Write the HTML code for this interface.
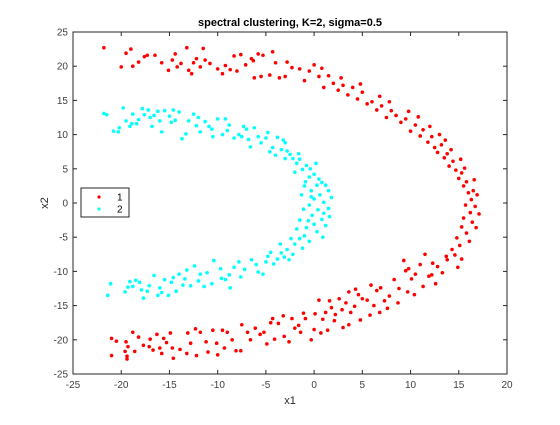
<!DOCTYPE html>
<html><head><meta charset="utf-8"><style>
body{margin:0;background:#fff;width:560px;height:420px;overflow:hidden;font-family:"Liberation Sans",sans-serif}
</style></head><body>
<svg id="chart" width="560" height="420" xmlns="http://www.w3.org/2000/svg" font-family="Liberation Sans, sans-serif">
<rect width="560" height="420" fill="#fff"/>
<g id="marks"></g>
<g id="axes"></g>
</svg>
<script>
const xTicks=[-25,-20,-15,-10,-5,0,5,10,15,20];
const yTicks=[-25,-20,-15,-10,-5,0,5,10,15,20,25];
const seriesNames=["1","2"];
const cluster1=[[-21.8,22.7],[-20,19.9],[-19.5,21.9],[-19,22.5],[-18.8,20],[-18.2,20.6],[-17.6,21.4],[-17.3,21.6],[-16.5,21.6],[-15.8,20.5],[-15.1,19.4],[-14.7,20.9],[-14.4,21.8],[-14.2,19.9],[-13.8,20.4],[-13.2,22.7],[-13.0,19.4],[-12.7,18.9],[-12.5,20.5],[-12.2,21.1],[-11.8,19.9],[-11.5,22.6],[-11.3,20.9],[-10.8,20.4],[-10,19.6],[-9.5,18.9],[-8.7,19.5],[-8.3,21.5],[-8,19.3],[-7.6,21.7],[-6.5,21.1],[-6.3,20.8],[-6.2,18.3],[-5.8,21.8],[-5.5,18.5],[-5.3,21.6],[-4.6,18.7],[-4.3,22.1],[-4,20.5],[-3.6,18.3],[-3,18.5],[-2.3,19.8],[-1.5,19.6],[-1,17.9],[-0.5,19.3],[0,20.2],[0.5,18.5],[1,16.9],[1.5,18.6],[2,17.5],[2.5,16.5],[3,17.2],[3.5,15.8],[4,16.9],[4.5,15.2],[5,16.2],[5.5,14.5],[6,14.8],[6.5,13.6],[7,14.2],[7.5,12.5],[8,13.5],[8.5,12.8],[9,11.8],[9.5,12.3],[10,10.5],[10.5,11.4],[11,9.8],[11.3,10.7],[11.8,8.9],[12.2,9.7],[12.5,8.1],[12.8,7.4],[13.2,8.5],[13.5,6.6],[13.8,7.2],[14,5.4],[14.4,6.1],[14.7,4.8],[15,3.6],[15.3,4.4],[15.5,2.5],[15.8,3.1],[16,1.5],[16.3,0.5],[16.5,1.8],[16.7,-0.5],[15.7,-0.3],[16.2,-1.4],[15.5,-2.2],[16.4,-2.8],[15.3,-3.5],[15.8,-4.4],[14.8,-5.1],[15.1,-6.2],[14.3,-6.8],[14.6,-7.6],[13.8,-8.3],[13.7,-7.8],[12.8,-9.3],[12.3,-8.8],[11.9,-10.7],[12.2,-10.5],[11.5,-7.5],[11,-9],[10.5,-10.4],[10.1,-11.1],[9.8,-9.6],[9.5,-9.9],[9.7,-13],[9.3,-8.4],[8.8,-12.5],[8.3,-11.2],[7.8,-13.6],[7.3,-14.3],[6.9,-12.4],[6.8,-16],[6.5,-12.8],[6.2,-15],[5.9,-12],[5.5,-14.2],[5,-14],[4.6,-13.4],[4.3,-12.6],[4.2,-15.1],[3.8,-16],[3.6,-17.8],[3.6,-13],[3.3,-14.6],[2.9,-15.6],[2.6,-14],[2.2,-16.3],[2.1,-17.2],[1.8,-15.3],[1.6,-14.3],[1.2,-16],[0.9,-17],[0.7,-19],[0.5,-14.2],[0.1,-16.2],[0,-18.5],[-0.9,-16.9],[-1.1,-16.1],[-1.4,-18.9],[-1.6,-17.9],[-2,-18.3],[-2.3,-16.9],[-3.1,-19.5],[-3.2,-16.5],[-3.7,-17.6],[-4.3,-16.9],[-4.5,-17.5],[-4.9,-20.6],[-5.2,-18.9],[-5.6,-19.2],[-6.1,-18.3],[-6.6,-20],[-7.5,-17.8],[-7.6,-21.6],[-8.1,-21.6],[-8.5,-20],[-9,-18.9],[-9.5,-18.6],[-10,-22.2],[-10.1,-20.5],[-10.5,-18.6],[-11.2,-20.3],[-11.8,-18.9],[-12.2,-22.3],[-12.3,-18.4],[-13.1,-19],[-13.2,-22],[-13.9,-21.4],[-14.6,-22.7],[-14.7,-21.2],[-14.9,-19],[-15.3,-20.4],[-15.6,-19.8],[-15.8,-22],[-16.3,-19.2],[-16.7,-21.5],[-17,-19.9],[-17.1,-21],[-18.2,-19.6],[-18.6,-21.7],[-18.8,-18.9],[-19.3,-21],[-19.4,-22.4],[-19.5,-20.3],[-19.6,-21.7],[-19.4,-22.8],[-20.5,-20.2],[-21,-19.8],[-21,-22.3],
[-9.2,20.1],[-7.1,20.2],[-2.8,20.6],[0.8,19.7],[2.8,18.3],[4.8,17.4],[6.8,15.6],[7.8,14.8],[9.8,13.4],[10.8,12.6],[12,11.2],[13,10],[13.6,9.2],[14.2,7.8],[15.2,6.4],[15.6,5.1],[16.6,3.4],[16.9,1.2],[17.1,-1.6],[16.8,-3.6],[16.1,-5.6],[15.3,-8.2],[14.9,-9.4],[13.3,-10.2],[12.6,-11.8],[11.3,-12.2],[10.4,-13.4],[8.7,-14.6],[7.6,-15.4],[5.8,-16.4],[4.8,-17.1],[3,-18.2],[1.4,-18.6],[-0.3,-20],[-2.6,-20.3],[-4.1,-19.9],[-6.9,-18.9],[-9.3,-21.2],[-11,-21.8],[-12.8,-20.5],[-16,-21.2],[-17.7,-20.8]];
const cluster2=[[-21.8,13.1],[-21.5,12.9],[-20.8,10.5],[-20.3,10.4],[-20.2,11],[-19.8,13.9],[-19.5,12],[-19.1,11.2],[-18.9,11.6],[-18.4,11.6],[-18.2,12.2],[-17.8,13.8],[-17.6,12.9],[-17.2,13.6],[-17,12.5],[-16.8,11.2],[-16.6,12.8],[-16.2,13.4],[-15.8,10.4],[-15.5,13.5],[-15,12.7],[-14.8,11.8],[-14.4,12.1],[-14,13.3],[-13.7,9.4],[-13.3,10.1],[-13,12],[-12.5,13],[-12.2,11.3],[-11.8,10.4],[-11.3,11.9],[-10.9,11.2],[-10.5,9.7],[-10,12.3],[-9.5,10],[-9.2,12.3],[-8.8,11.4],[-8.3,9.5],[-7.8,10],[-7.5,9.7],[-7,10.8],[-6.6,8.2],[-6.2,11],[-5.8,9.7],[-5.5,8.8],[-5,9.5],[-4.6,7.5],[-4.3,8.1],[-3.8,9.6],[-3.4,7.8],[-3,8.8],[-2.5,7.1],[-2.2,6.5],[-1.8,5.8],[-1.5,6.4],[-1.2,4.9],[-0.8,5.5],[-0.5,3.8],[-0.9,3.1],[0,4.2],[0.3,2.6],[-0.3,1.8],[0.6,1.2],[0,0.6],[1,0.1],[-0.5,-0.3],[0.4,-1],[1.5,-0.8],[-0.2,-1.8],[0.8,-2.4],[0,-3.1],[-0.8,-3.6],[0.3,-4.2],[-1,-4.8],[-1.5,-5.2],[-0.5,-5.6],[-2,-6],[-1.2,-6.6],[-2.8,-6.8],[-2.2,-7.5],[-3.4,-7.3],[-3.8,-8.2],[-2.6,-8.3],[-4.2,-8.9],[-5,-8.6],[-5.3,-10.4],[-6,-9],[-6.5,-8.3],[-7.2,-9.7],[-7.8,-8.6],[-8.3,-9.4],[-8.7,-12.4],[-8.8,-10.5],[-9.2,-11.2],[-9.7,-9.6],[-10.4,-8.4],[-10.6,-11.8],[-11.1,-10.2],[-11.4,-12.2],[-12,-11.4],[-12.4,-9.2],[-12.8,-12.1],[-13.2,-9.8],[-13.6,-12],[-14,-10.4],[-14.3,-12.9],[-14.8,-11.6],[-15.1,-13.5],[-15.5,-11.2],[-16,-12.4],[-16.2,-13.5],[-16.6,-10.6],[-17.1,-12.1],[-17.7,-13.9],[-17.9,-12.7],[-18.5,-11.3],[-18.8,-12.2],[-19.3,-12.3],[-19.1,-11.5],[-21.1,-11.8],[-21.4,-13.5],[-2,4.5],[-1,2.5],[1.5,1.8],[1,-1.5],[-1.5,-2.5],[0.5,3.5],[-3,6.5],[-4,7],[-3.5,-6],[-4.5,-7.2],[-0.3,0.9],[0.8,3],[-0.6,-2.6],[1.2,-3.3],
[-18.8,13],[-16,12],[-14.6,13.6],[-12,12.5],[-10.6,10.8],[-9,10.6],[-7.3,11.2],[-6.8,9.3],[-4.8,10.3],[-3.2,9.2],[-2.8,7.6],[-1.6,7.2],[-0.4,5],[0.2,5.8],[1.2,2.6],[-1.3,1.2],[1.8,0.8],[-1.1,-0.9],[1.6,-2],[-1.8,-3.8],[0.9,-5],[-2.4,-5.2],[-3.1,-7.9],[-4.8,-7.8],[-5.8,-10.1],[-7.6,-10.8],[-9.6,-11],[-11.8,-10.4],[-13.4,-11.1],[-15.8,-13.1],[-17.3,-12.9],[-19.6,-13],[-18.1,-11.6],[-14.6,-10.9]];
const colors=["#ff0000","#00ffff"];
const L=73,R=507,T=32,B=374;
const xs=v=>L+(v+25)/45*(R-L);
const ys=v=>B-(v+25)/50*(B-T);
const NS="http://www.w3.org/2000/svg";
function mk(tag,attrs,parent){const e=document.createElementNS(NS,tag);for(const k in attrs)e.setAttribute(k,attrs[k]);parent.appendChild(e);return e;}
const marks=document.getElementById('marks'),axes=document.getElementById('axes');
[cluster1,cluster2].forEach((pts,si)=>{
  const g=mk('g',{},marks);
  
  
  pts.forEach(p=>{const c=mk('circle',{cx:xs(p[0]),cy:ys(p[1]),r:1.8,fill:colors[si]},g);
    
    });
});
const box=mk('rect',{x:L,y:T,width:R-L,height:B-T,fill:'none',stroke:'#262626','stroke-width':1},axes);


xTicks.forEach(t=>{const x=xs(t);
  mk('line',{x1:x,x2:x,y1:B,y2:B-4,stroke:'#262626'},axes);
  mk('line',{x1:x,x2:x,y1:T,y2:T+4,stroke:'#262626'},axes);
  const tx=mk('text',{x:x,y:B+14,'font-size':10,'text-anchor':'middle',fill:'#404040'},axes);tx.textContent=t;
  
  });
yTicks.forEach(t=>{const y=ys(t);
  mk('line',{x1:L,x2:L+4,y1:y,y2:y,stroke:'#262626'},axes);
  mk('line',{x1:R,x2:R-4,y1:y,y2:y,stroke:'#262626'},axes);
  const tx=mk('text',{x:L-5,y:y+3.5,'font-size':10,'text-anchor':'end',fill:'#404040'},axes);tx.textContent=t;
  
  });
const xt=mk('text',{x:(L+R)/2,y:B+30,'font-size':11,'text-anchor':'middle',fill:'#262626'},axes);xt.textContent='x1';


const yt=mk('text',{x:0,y:0,'font-size':11,'text-anchor':'middle',fill:'#262626',transform:`translate(48,${(T+B)/2}) rotate(-90)`},axes);yt.textContent='x2';


const tt=mk('text',{x:(L+R)/2,y:T-6,'font-size':11,'font-weight':'bold','text-anchor':'middle',fill:'#000'},axes);tt.textContent='spectral clustering, K=2, sigma=0.5';


const lg=mk('g',{},axes);


mk('rect',{x:81,y:188,width:48,height:29,fill:'#fff',stroke:'#262626'},lg);
seriesNames.forEach((n,i)=>{const y=197+i*12;
  mk('circle',{cx:99,cy:y,r:1.6,fill:colors[i]},lg);
  const t=mk('text',{x:117,y:y+3.5,'font-size':10,fill:'#000'},lg);t.textContent=n;
  
  });
</script>
</body></html>
